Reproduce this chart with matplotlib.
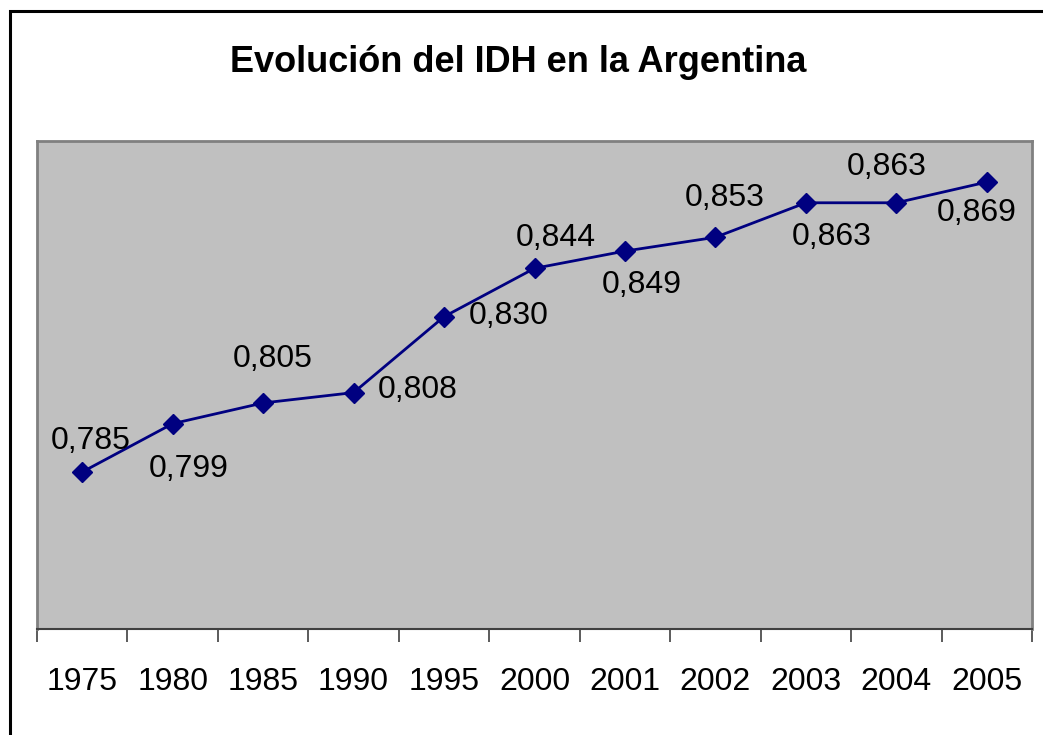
import matplotlib.pyplot as plt
from matplotlib.patches import Rectangle

# data
years = ['1975', '1980', '1985', '1990', '1995', '2000', '2001', '2002', '2003', '2004', '2005']
idh = [0.785, 0.799, 0.805, 0.808, 0.830, 0.844, 0.849, 0.853, 0.863, 0.863, 0.869]
# where each value label sits relative to its point (pixels)
label_offsets = [(8, 31), (16, -45), (10, 44), (64, 3), (65, 1), (21, 30),
                 (17, -34), (9, 39), (26, -34), (-10, 36), (-10, -31)]

plt.rcParams['font.family'] = ['Liberation Sans', 'DejaVu Sans']

fig = plt.figure(figsize=(10.43, 7.35), dpi=100)
ax = fig.add_axes([37/1043, 1 - 629/735, (1032 - 37)/1043, (629 - 141)/735])
ax.set_facecolor('#c0c0c0')

x = list(range(len(years)))
ax.plot(x, idh, color='#000080', lw=2, marker='D', ms=10, mec='#000080', mfc='#000080')

for xi, v, (dx, dy) in zip(x, idh, label_offsets):
    ax.annotate(f'{v:.3f}'.replace('.', ','), (xi, v), xytext=(dx, dy),
                textcoords='offset pixels', ha='center', va='center', fontsize=23)

ax.set_xlim(-0.5, len(years) - 0.5)
ax.set_ylim(0.7395, 0.8809)
ax.set_yticks([])
ax.set_xticks(x)
ax.set_xticklabels(years, fontsize=23)
ax.set_xticks([i - 0.5 for i in range(len(years) + 1)], minor=True)
ax.tick_params(axis='x', which='major', length=0, pad=27)
ax.tick_params(axis='x', which='minor', length=9, width=1.2, color='#404040', direction='out')

for s in ['top', 'left', 'right']:
    ax.spines[s].set_color('#808080')
    ax.spines[s].set_linewidth(2)
ax.spines['bottom'].set_color('#404040')
ax.spines['bottom'].set_linewidth(1.5)

fig.text(0.497, 1 - 62/735, 'Evolución del IDH en la Argentina', ha='center', va='center',
         fontsize=26, fontweight='bold')

# outer chart border (right and bottom edges fall outside the picture)
fig.patches.append(Rectangle((9.5/1043, -0.1), 1.2, 1 - 11/735 + 0.1, transform=fig.transFigure,
                             fill=False, lw=2.2, ec='black'))

fig.savefig('out.png', dpi=100)
